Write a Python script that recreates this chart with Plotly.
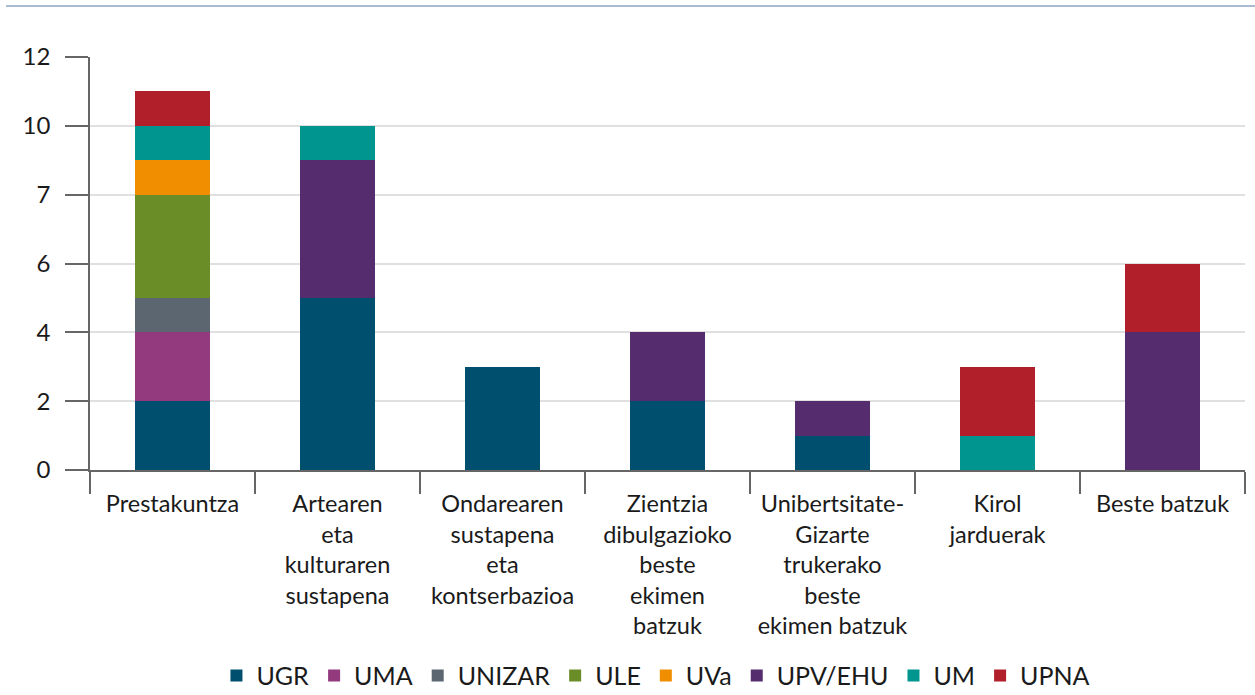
import plotly.graph_objects as go

categories = [
    "Prestakuntza",
    "Artearen<br>eta<br>kulturaren<br>sustapena",
    "Ondarearen<br>sustapena<br>eta<br>kontserbazioa",
    "Zientzia<br>dibulgazioko<br>beste<br>ekimen<br>batzuk",
    "Unibertsitate-<br>Gizarte<br>trukerako<br>beste<br>ekimen batzuk",
    "Kirol<br>jarduerak",
    "Beste batzuk",
]

series_names = ["UGR", "UMA", "UNIZAR", "ULE", "UVa", "UPV/EHU", "UM", "UPNA"]
UGR = [2, 5, 3, 2, 1, 0, 0]
UMA = [2, 0, 0, 0, 0, 0, 0]
UNIZAR = [1, 0, 0, 0, 0, 0, 0]
ULE = [3, 0, 0, 0, 0, 0, 0]
UVa = [1, 0, 0, 0, 0, 0, 0]
UPV_EHU = [0, 4, 0, 2, 1, 0, 4]
UM = [1, 1, 0, 0, 0, 1, 0]
UPNA = [1, 0, 0, 0, 0, 2, 2]

colors = ["#004f6f", "#933a7e", "#5b6670", "#6a8d28", "#f18e00", "#552c6e", "#00958f", "#b11f2b"]

y_tickvals = [0, 2, 4, 6, 8, 10, 12]
y_ticktext = ["0", "2", "4", "6", "7", "10", "12"]

values = [UGR, UMA, UNIZAR, ULE, UVa, UPV_EHU, UM, UPNA]

fig = go.Figure()
for name, vals, col in zip(series_names, values, colors):
    fig.add_trace(go.Bar(
        x=categories, y=vals, name=name,
        marker=dict(color=col, line=dict(width=0)),
        hoverinfo="x+y+name",
    ))

font_family = "Lato, 'Open Sans', sans-serif"

fig.update_layout(
    barmode="stack",
    bargap=0.54,
    width=1255, height=695,
    margin=dict(l=90, r=10, t=57, b=225, autoexpand=False),
    plot_bgcolor="white",
    paper_bgcolor="white",
    font=dict(family=font_family, size=24, color="#1a1a1a"),
    legend=dict(
        orientation="h", x=0.49, xanchor="center", y=-0.498, yanchor="middle",
        font=dict(size=25), traceorder="normal", itemwidth=30,
    ),
    showlegend=True,
)

fig.update_yaxes(
    range=[0, 12],
    tickvals=y_tickvals, ticktext=y_ticktext,
    showgrid=True, gridcolor="#e0e0e0", gridwidth=2,
    showline=True, linecolor="#666666", linewidth=1.5,
    ticks="outside", ticklen=23, tickcolor="#666666", tickwidth=1.5,
    tickfont=dict(size=24), ticklabelstandoff=10,
    zeroline=False,
)
fig.update_xaxes(
    showline=True, linecolor="#666666", linewidth=1.5,
    ticks="outside", ticklen=22, tickcolor="#666666", tickwidth=1.5,
    tickson="boundaries",
    tickfont=dict(size=23.5), ticklabelstandoff=12,
)

fig.add_shape(
    type="line", xref="paper", yref="paper",
    x0=-0.0727, x1=1.01, y0=1.1235, y1=1.1235,
    line=dict(color="#a9bccf", width=2),
)

fig.write_html(
    "out.html",
    config={"displayModeBar": False},
    post_script="document.body.style.margin='0';",
)
